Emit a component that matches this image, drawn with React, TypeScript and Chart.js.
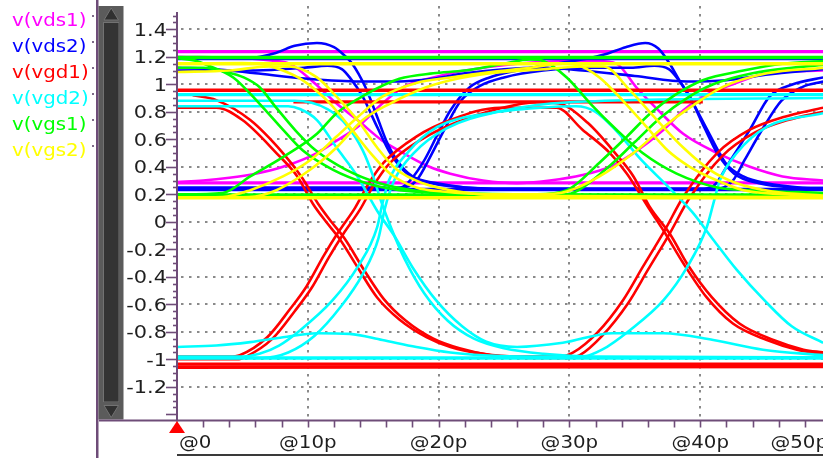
import React, { useEffect, useRef } from 'react';
import { Chart, registerables } from 'chart.js';

Chart.register(...registerables);

type Pt = [number, number];

const W = 823;
const H = 458;

// Axis limits: time in ps, voltage in V
const timeMin = 0;
const timeMax = 49.39;
const voltMin = -1.445;
const voltMax = 1.5695;

const voltTicks = [-1.2, -1, -0.8, -0.6, -0.4, -0.2, 0, 0.2, 0.4, 0.6, 0.8, 1, 1.2, 1.4];
const voltTickLabels = ['-1.2', '-1', '-0.8', '-0.6', '-0.4', '-0.2', '0', '0.2', '0.4', '0.6', '0.8', '1', '1.2', '1.4'];
const timeTicks = [0, 10, 20, 30, 40, 50];
const timeTickLabels = ['@0', '@10p', '@20p', '@30p', '@40p', '@50p'];

const signalNames = ['v(vds1)', 'v(vds2)', 'v(vgd1)', 'v(vgd2)', 'v(vgs1)', 'v(vgs2)'];
const signalColors = ['#ff00ff', '#0000ff', '#ff0000', '#00ffff', '#00ff00', '#ffff00'];

// ---- v(vds1) traces ----
const vds1Top: Pt[] = [[0, 1.238], [49.4, 1.238]];
const vds1Bottom: Pt[] = [[0, 0.283], [49.4, 0.283]];
const vds1RiseFall: Pt[] = [[0, 0.29], [2, 0.3], [4, 0.32], [6, 0.35], [8.1, 0.4], [10.7, 0.5], [12.2, 0.59], [13.8, 0.69], [15.7, 0.86], [17.3, 0.98], [19.6, 1.05], [22, 1.1], [26, 1.15], [30, 1.17], [32.2, 1.17], [33.6, 1.15], [35.1, 0.98], [36.8, 0.81], [38.7, 0.64], [41.3, 0.5], [43.8, 0.4], [46.3, 0.33], [49.4, 0.3]];
const vds1FallRise: Pt[] = [[0, 1.2], [5, 1.19], [7.5, 1.17], [8.6, 1.15], [10.5, 1.01], [12.2, 0.86], [13.8, 0.74], [15.7, 0.59], [17.3, 0.5], [19.3, 0.4], [20.9, 0.35], [23.4, 0.3], [26, 0.28], [28.5, 0.3], [31, 0.34], [33.1, 0.4], [34.9, 0.5], [37.2, 0.67], [38.7, 0.81], [40.2, 0.91], [42.5, 1.0], [45.1, 1.08], [49.4, 1.1]];

// ---- v(vds2) traces ----
const vds2Top: Pt[] = [[0, 1.187], [49.4, 1.187]];
const vds2Bottom: Pt[] = [[0, 0.235], [49.4, 0.235]];
const vds2HumpFallRise: Pt[] = [[0, 1.187], [5.5, 1.19], [7.6, 1.23], [9, 1.28], [10.7, 1.3], [12, 1.27], [12.8, 1.21], [13.4, 1.15], [14.4, 0.98], [15.2, 0.79], [16, 0.59], [16.8, 0.45], [18, 0.33], [19.9, 0.28], [22, 0.25], [25, 0.24], [40, 0.24], [41, 0.26], [42.2, 0.43], [43.8, 0.67], [45.3, 0.91], [47.1, 1.0], [49.4, 1.05]];
const vds2RiseHumpFall: Pt[] = [[0, 0.24], [16.5, 0.24], [17.5, 0.27], [18.8, 0.43], [20, 0.65], [20.9, 0.81], [22.4, 0.98], [23.9, 1.05], [26, 1.1], [29, 1.15], [31.5, 1.19], [32.8, 1.22], [34.3, 1.27], [35.8, 1.3], [36.8, 1.26], [37.6, 1.16], [38.4, 1.03], [39.3, 0.89], [40.7, 0.64], [42, 0.42], [43.3, 0.33], [45.1, 0.28], [47.6, 0.25], [49.4, 0.245]];
const vds2DipFallRise: Pt[] = [[0, 1.1], [6, 1.1], [9.7, 1.12], [11.5, 1.135], [12.6, 1.11], [13.2, 1.05], [14.2, 0.91], [15.3, 0.69], [16.3, 0.5], [17.6, 0.35], [19.5, 0.28], [22, 0.25], [26, 0.24], [41.2, 0.24], [42.5, 0.3], [43.4, 0.45], [44.8, 0.68], [46.2, 0.88], [47.8, 0.98], [49.4, 1.02]];
const vds2RiseDipFall: Pt[] = [[0, 0.25], [17.2, 0.25], [18.3, 0.3], [19.4, 0.48], [20.6, 0.7], [21.7, 0.88], [23.2, 0.99], [25, 1.05], [28, 1.1], [32, 1.12], [34.7, 1.12], [36.5, 1.135], [37.6, 1.11], [38.2, 1.05], [39.2, 0.91], [40.3, 0.69], [41.3, 0.5], [42.6, 0.35], [44.5, 0.28], [47, 0.25], [49.4, 0.245]];
const vds2Sag: Pt[] = [[0, 1.12], [3, 1.11], [6, 1.08], [10, 1.04], [14, 1.02], [17, 1.02], [19.5, 1.04], [22, 1.08], [25, 1.11], [28, 1.12], [31, 1.1], [35, 1.06], [39, 1.02], [42, 1.03], [45, 1.07], [49.4, 1.11]];

// ---- v(vgd1) traces ----
const vgd1Top: Pt[] = [[0, 0.957], [49.4, 0.957]];
const vgd1Upper: Pt[] = [[8.9, 0.872], [40.2, 0.872]];
const vgd1Bottom: Pt[] = [[0, -1.035], [49.4, -1.035]];
const vgd1Bottom2: Pt[] = [[0, -1.058], [49.4, -1.052]];
const vgd1FallRise: Pt[] = [[0, 0.83], [3, 0.83], [5, 0.74], [7.6, 0.5], [9.2, 0.33], [10.4, 0.13], [11.4, 0.0], [12.4, -0.12], [13.8, -0.33], [15.3, -0.55], [17, -0.71], [19.1, -0.84], [20.9, -0.91], [23.4, -0.96], [26, -0.98], [29.3, -0.98], [30.3, -0.95], [32.1, -0.81], [34.1, -0.57], [35.6, -0.33], [37.3, -0.06], [38.7, 0.18], [41.3, 0.5], [43.8, 0.67], [46.3, 0.76], [49.4, 0.83]];
const vgd1RiseFall: Pt[] = [[0, -0.98], [4, -0.98], [4.8, -0.97], [6.9, -0.84], [8.6, -0.64], [9.9, -0.47], [11.2, -0.25], [12.3, -0.08], [13.6, 0.1], [14.6, 0.27], [15.8, 0.43], [18.3, 0.62], [20.9, 0.74], [24.7, 0.83], [29, 0.83], [31, 0.67], [33.1, 0.5], [34.4, 0.35], [36.2, 0.08], [37.3, -0.08], [38.7, -0.3], [40.5, -0.55], [42.5, -0.74], [45.1, -0.86], [47.4, -0.93], [49.4, -0.96]];
const vgd1FallRiseB: Pt[] = [[1.2, 0.92], [3, 0.885], [5.6, 0.74], [8.1, 0.5], [9.5, 0.33], [10.8, 0.13], [11.8, 0.0], [12.8, -0.12], [14.3, -0.35], [15.8, -0.56], [17.5, -0.72], [19.6, -0.85], [21.6, -0.92], [24, -0.97], [27, -0.99], [30, -0.99], [30.8, -0.97], [32.5, -0.83], [34.5, -0.59], [36, -0.35], [37.7, -0.08], [39.1, 0.16], [41.7, 0.48], [44.2, 0.65], [46.7, 0.74], [49.4, 0.8]];
const vgd1RiseFallB: Pt[] = [[0, -1.0], [4.6, -1.0], [5.3, -0.98], [7.3, -0.85], [9, -0.65], [10.3, -0.48], [11.6, -0.26], [12.7, -0.09], [14, 0.09], [15, 0.26], [16.2, 0.42], [18.7, 0.6], [21.3, 0.72], [24.5, 0.82], [27.5, 0.87], [29.2, 0.86], [31.4, 0.72], [33.5, 0.5], [34.9, 0.33], [36.2, 0.1], [37.7, -0.09], [39.1, -0.32], [40.9, -0.55], [43, -0.74], [45.6, -0.86], [47.9, -0.93], [49.4, -0.95]];

// ---- v(vgd2) traces ----
const vgd2Top: Pt[] = [[0, 0.925], [49.4, 0.925]];
const vgd2Bottom: Pt[] = [[0, -0.99], [49.4, -0.99]];
const vgd2FallHump: Pt[] = [[0, 0.84], [8.5, 0.84], [9.4, 0.82], [10.7, 0.74], [12.2, 0.54], [13.8, 0.33], [15.3, 0.08], [16.6, -0.1], [18, -0.33], [19.8, -0.57], [21.8, -0.76], [23.6, -0.87], [26, -0.91], [29.5, -0.88], [33.3, -0.81], [37.2, -0.81], [41, -0.86], [44.8, -0.93], [49.4, -0.97]];
const vgd2HumpRise: Pt[] = [[0, -0.91], [3, -0.9], [5.6, -0.875], [8.1, -0.84], [10.7, -0.81], [13.2, -0.815], [15.7, -0.86], [18.3, -0.91], [20.9, -0.95], [23.4, -0.97], [27, -0.98], [31, -0.98], [32.5, -0.93], [34.6, -0.79], [37.2, -0.57], [39, -0.33], [40.5, -0.04], [41, 0.13], [41.5, 0.3], [42.8, 0.5], [45.1, 0.69], [49.4, 0.79]];
const vgd2RiseFall: Pt[] = [[0, -0.98], [5, -0.98], [6.3, -0.96], [7.8, -0.9], [9.4, -0.79], [11.9, -0.57], [13.8, -0.33], [15.3, -0.04], [15.7, 0.13], [16.2, 0.3], [17.6, 0.5], [19.9, 0.69], [23.9, 0.79], [27.8, 0.83], [30.5, 0.84], [32, 0.8], [33.6, 0.66], [35.5, 0.45], [37.5, 0.26], [39.4, 0.07], [41, -0.13], [42.8, -0.35], [44.9, -0.57], [47, -0.76], [49.4, -0.88]];
const vgd2FallLow: Pt[] = [[0, 0.88], [9, 0.88], [11.5, 0.82], [13, 0.7], [14.2, 0.52], [15, 0.33], [15.6, 0.15], [16.4, -0.05], [17.4, -0.27], [18.9, -0.52], [20.7, -0.72], [22.7, -0.85], [25, -0.92], [28, -0.96], [32, -0.98], [49.4, -0.985]];
const vgd2RiseHigh: Pt[] = [[0, -0.99], [6.5, -0.99], [8.5, -0.95], [10.5, -0.83], [12.5, -0.62], [14.2, -0.38], [15.4, -0.12], [15.9, 0.1], [16.6, 0.3], [18.1, 0.5], [20.6, 0.68], [24.5, 0.8], [30, 0.87], [49.4, 0.9]];

// ---- v(vgs1) traces ----
const vgs1Top: Pt[] = [[0, 1.195], [49.4, 1.195]];
const vgs1Bottom: Pt[] = [[0, 0.195], [49.4, 0.195]];
const vgs1FallRise: Pt[] = [[0, 1.19], [1.5, 1.17], [2.3, 1.14], [4.3, 1.05], [6.3, 0.86], [8.1, 0.67], [9.6, 0.52], [11.9, 0.38], [14.5, 0.28], [17, 0.23], [21, 0.21], [27.5, 0.2], [29.8, 0.23], [32.3, 0.43], [34.4, 0.62], [36.2, 0.79], [38.2, 0.93], [40.2, 1.03], [43.3, 1.1], [46.3, 1.15], [49.4, 1.17]];
const vgs1RiseFall: Pt[] = [[0, 0.2], [3.5, 0.21], [5.6, 0.33], [8.1, 0.47], [10.7, 0.64], [12.2, 0.79], [14.5, 0.93], [17, 1.04], [19.6, 1.08], [22, 1.1], [25, 1.15], [27, 1.18], [28, 1.17], [29.8, 1.05], [31.6, 0.86], [33.6, 0.67], [35.6, 0.5], [38.2, 0.35], [41.3, 0.25], [43.8, 0.23], [49.4, 0.21]];
const vgs1FallLow: Pt[] = [[0, 1.12], [2, 1.12], [3.8, 1.09], [5.1, 1.05], [6.3, 0.98], [7.5, 0.84], [9.1, 0.66], [10.6, 0.52], [12.9, 0.38], [15.5, 0.28], [18, 0.23], [22, 0.2], [49.4, 0.19]];
const vgs1LowRise: Pt[] = [[0, 0.185], [28.5, 0.185], [30.5, 0.22], [33, 0.4], [35, 0.58], [37, 0.76], [39, 0.9], [41, 1.0], [44, 1.08], [47, 1.12], [49.4, 1.14]];

// ---- v(vgs2) traces ----
const vgs2Top: Pt[] = [[0, 1.15], [49.4, 1.15]];
const vgs2Bottom: Pt[] = [[0, 0.175], [49.4, 0.175]];
const vgs2RiseFall: Pt[] = [[0, 0.175], [3.5, 0.18], [5.6, 0.23], [8.1, 0.33], [10.2, 0.45], [12.2, 0.62], [13.8, 0.76], [15.7, 0.91], [18.3, 1.01], [20.9, 1.05], [24, 1.09], [27, 1.12], [29.5, 1.15], [30.6, 1.14], [32.3, 1.05], [34.1, 0.88], [35.9, 0.69], [37.5, 0.52], [39.2, 0.4], [41.3, 0.3], [43.3, 0.23], [46.3, 0.2], [49.4, 0.185]];
const vgs2FallRise: Pt[] = [[0, 1.15], [5, 1.155], [6.3, 1.15], [8.1, 1.1], [9.6, 1.03], [11.7, 0.86], [13.2, 0.69], [14.8, 0.5], [16.3, 0.35], [18.3, 0.25], [20.3, 0.22], [24, 0.2], [28, 0.2], [29.8, 0.22], [32.3, 0.33], [34.9, 0.5], [37.2, 0.69], [39.2, 0.83], [41.7, 0.98], [45.1, 1.08], [49.4, 1.12]];
const vgs2FallLow: Pt[] = [[0, 1.09], [4, 1.1], [7, 1.13], [8.6, 1.13], [10.7, 1.05], [12.2, 0.91], [13.8, 0.74], [15.3, 0.54], [16.8, 0.38], [18.8, 0.28], [21.5, 0.22], [25, 0.19], [49.4, 0.18]];
const vgs2RiseFallB: Pt[] = [[0, 0.175], [5.5, 0.18], [7.6, 0.23], [10.2, 0.38], [12.2, 0.54], [14.2, 0.74], [16.3, 0.86], [19.1, 0.98], [20.9, 1.03], [24, 1.08], [28, 1.11], [31, 1.13], [32.6, 1.13], [34.6, 0.96], [36.7, 0.74], [38.7, 0.54], [40.7, 0.38], [42.8, 0.28], [45.5, 0.22], [49.4, 0.19]];

const vds1Traces = [vds1Top, vds1Bottom, vds1RiseFall, vds1FallRise];
const vds2Traces = [vds2Top, vds2Bottom, vds2HumpFallRise, vds2RiseHumpFall, vds2DipFallRise, vds2RiseDipFall, vds2Sag];
const vgd1Traces = [vgd1Top, vgd1Upper, vgd1Bottom, vgd1Bottom2, vgd1FallRise, vgd1RiseFall, vgd1FallRiseB, vgd1RiseFallB];
const vgd2Traces = [vgd2Top, vgd2Bottom, vgd2FallHump, vgd2HumpRise, vgd2RiseFall, vgd2FallLow, vgd2RiseHigh];
const vgs1Traces = [vgs1Top, vgs1Bottom, vgs1FallRise, vgs1RiseFall, vgs1FallLow, vgs1LowRise];
const vgs2Traces = [vgs2Top, vgs2Bottom, vgs2RiseFall, vgs2FallRise, vgs2FallLow, vgs2RiseFallB];

const signalTraces = [vds1Traces, vds2Traces, vgd1Traces, vgd2Traces, vgs1Traces, vgs2Traces];

const FONT = '18px "DejaVu Sans"';
const LEGEND_STRETCH = 1.1;
const TICK_STRETCH = 1.16;
const AXIS_PURPLE = '#6e4c78';

function drawText(ctx: CanvasRenderingContext2D, text: string, x: number, y: number, align: CanvasTextAlign, color: string, stretch: number) {
  ctx.save();
  ctx.translate(x, y);
  ctx.scale(stretch, 1);
  ctx.font = FONT;
  ctx.fillStyle = color;
  ctx.textAlign = align;
  ctx.textBaseline = 'alphabetic';
  ctx.fillText(text, 0, 0);
  ctx.restore();
}

function line(ctx: CanvasRenderingContext2D, x1: number, y1: number, x2: number, y2: number) {
  ctx.beginPath();
  ctx.moveTo(x1, y1);
  ctx.lineTo(x2, y2);
  ctx.stroke();
}

const framePlugin = {
  id: 'waveFrame',
  beforeDraw(chart: any) {
    const ctx = chart.ctx;
    ctx.save();
    ctx.fillStyle = '#ffffff';
    ctx.fillRect(0, 0, W, H);
    ctx.restore();
  },
  beforeDatasetsDraw(chart: any) {
    const ctx: CanvasRenderingContext2D = chart.ctx;
    const xs = chart.scales.x;
    const ys = chart.scales.y;
    const area = chart.chartArea;
    ctx.save();
    ctx.strokeStyle = '#8a8a8a';
    ctx.lineWidth = 2;
    ctx.setLineDash([2.5, 5.5]);
    voltTicks.forEach((v) => {
      const py = Math.round(ys.getPixelForValue(v));
      line(ctx, area.left + 4, py, area.right, py);
    });
    timeTicks.forEach((t) => {
      if (t <= timeMin || t >= timeMax) return;
      const px = Math.round(xs.getPixelForValue(t));
      line(ctx, px, area.top, px, area.bottom);
    });
    ctx.restore();
  },
  afterDatasetsDraw(chart: any) {
    const ctx: CanvasRenderingContext2D = chart.ctx;
    const xs = chart.scales.x;
    const ys = chart.scales.y;
    const area = chart.chartArea;
    const axisX = xs.getPixelForValue(timeMin);
    const axisY = area.bottom;
    ctx.save();

    // left frame line
    ctx.fillStyle = AXIS_PURPLE;
    ctx.fillRect(96, 0, 2.5, H);

    // scroll bar
    ctx.fillStyle = '#5b5b5b';
    ctx.fillRect(98.5, 6, 25, axisY - 7);
    ctx.fillStyle = '#343434';
    ctx.fillRect(103, 22, 16.5, axisY - 40);
    ctx.strokeStyle = '#727272';
    ctx.lineWidth = 1;
    ctx.strokeRect(103.5, 22.5, 15.5, axisY - 41);
    ctx.fillStyle = '#303030';
    ctx.beginPath();
    ctx.moveTo(111.2, 8);
    ctx.lineTo(104, 20);
    ctx.lineTo(118.5, 20);
    ctx.closePath();
    ctx.fill();
    ctx.stroke();
    ctx.beginPath();
    ctx.moveTo(111.2, axisY - 3);
    ctx.lineTo(104, axisY - 15);
    ctx.lineTo(118.5, axisY - 15);
    ctx.closePath();
    ctx.fill();
    ctx.stroke();

    // legend
    signalNames.forEach((name, i) => {
      drawText(ctx, name, 12, 26 + 26 * i, 'left', signalColors[i], LEGEND_STRETCH);
      ctx.fillStyle = '#7d6a88';
      ctx.fillRect(92, 15 + 26 * i, 2, 2);
    });

    // y axis
    ctx.strokeStyle = AXIS_PURPLE;
    ctx.lineWidth = 2;
    line(ctx, axisX, 12, axisX, axisY + 1);
    for (let k = -28; k <= 30; k++) {
      const v = k * 0.05;
      const py = Math.round(ys.getPixelForValue(v)) + 0.5;
      const major = k % 4 === 0;
      ctx.lineWidth = 1.6;
      line(ctx, major ? axisX - 11 : axisX - 4, py, axisX, py);
    }
    voltTicks.forEach((v, i) => {
      const py = ys.getPixelForValue(v);
      drawText(ctx, voltTickLabels[i], 167, py + 6.5, 'right', '#1e1e1e', TICK_STRETCH);
    });

    // x axis
    ctx.lineWidth = 2;
    line(ctx, 99, axisY, W, axisY);
    ctx.lineWidth = 1.6;
    for (let t = 2; t < timeMax; t += 2) {
      const px = Math.round(xs.getPixelForValue(t)) + 0.5;
      line(ctx, px, axisY, px, axisY + 7);
    }
    // time origin marker
    ctx.fillStyle = '#ff0000';
    ctx.beginPath();
    ctx.moveTo(axisX, axisY + 0.5);
    ctx.lineTo(axisX - 8, axisY + 12.5);
    ctx.lineTo(axisX + 8, axisY + 12.5);
    ctx.closePath();
    ctx.fill();

    timeTicks.forEach((t, i) => {
      const px = xs.getPixelForValue(t);
      if (t === timeMin) drawText(ctx, timeTickLabels[i], axisX + 2, axisY + 27.5, 'left', '#1e1e1e', LEGEND_STRETCH);
      else if (t > timeMax) drawText(ctx, timeTickLabels[i], W + 5, axisY + 27.5, 'right', '#1e1e1e', LEGEND_STRETCH);
      else drawText(ctx, timeTickLabels[i], px, axisY + 27.5, 'center', '#1e1e1e', LEGEND_STRETCH);
    });

    ctx.strokeStyle = '#3a3a3a';
    ctx.lineWidth = 2;
    line(ctx, axisX, 455, W, 455);
    ctx.restore();
  },
};

export default function App() {
  const canvasRef = useRef<HTMLCanvasElement | null>(null);

  useEffect(() => {
    const canvas = canvasRef.current;
    if (!canvas) return;
    const datasets: any[] = [];
    signalTraces.forEach((traces, si) => {
      traces.forEach((trace) => {
        datasets.push({
          data: trace.map(([x, y]) => ({ x, y })),
          borderColor: signalColors[si],
          borderWidth: trace.length === 2 ? 3.4 : 2.6,
          pointRadius: 0,
          fill: false,
          cubicInterpolationMode: 'monotone',
          order: 10 - si,
        });
      });
    });

    const chart = new Chart(canvas, {
      type: 'line',
      data: { datasets },
      options: {
        responsive: false,
        animation: false,
        devicePixelRatio: 1,
        events: [],
        layout: { padding: { left: 177, top: 6, right: 0, bottom: H - 420.5 } },
        scales: {
          x: { type: 'linear', min: timeMin, max: timeMax, display: false },
          y: { type: 'linear', min: voltMin, max: voltMax, display: false },
        },
        plugins: { legend: { display: false }, tooltip: { enabled: false } },
      },
      plugins: [framePlugin],
    } as any);

    return () => chart.destroy();
  }, []);

  return (
    <div style={{ position: 'fixed', left: 0, top: 0, width: W, height: H, background: '#fff' }}>
      <canvas ref={canvasRef} width={W} height={H} style={{ display: 'block', width: W, height: H }} />
    </div>
  );
}
